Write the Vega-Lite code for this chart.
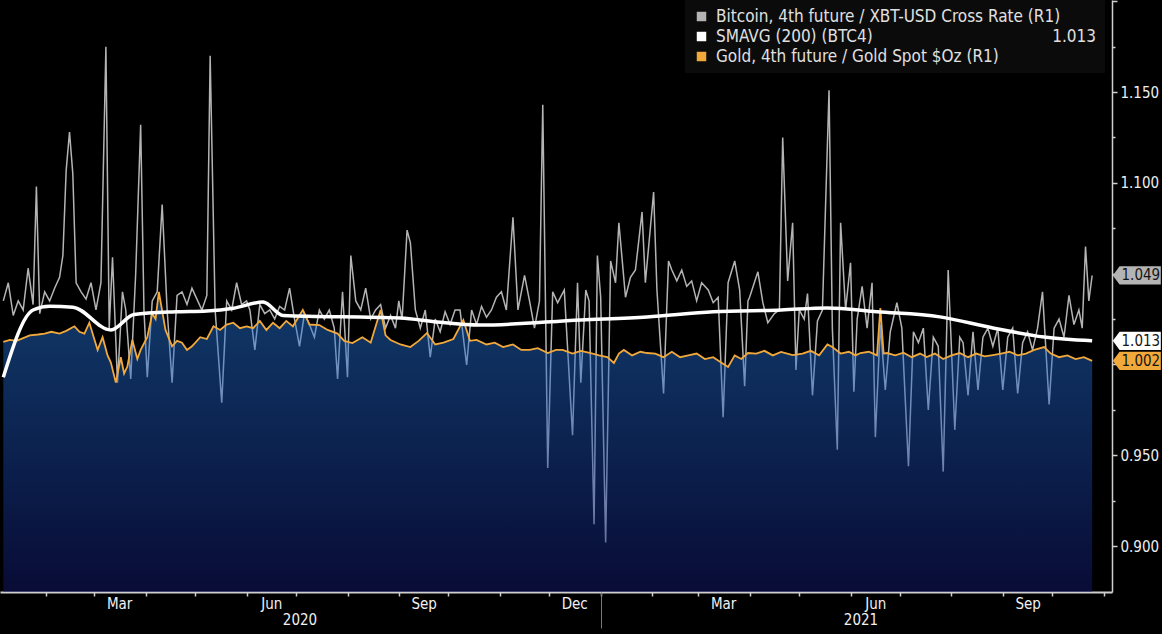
{
  "$schema": "https://vega.github.io/schema/vega-lite/v6.json",
  "width": 1112,
  "height": 592,
  "autosize": {"type": "none"},
  "padding": {"left": 0, "top": 0, "right": 50, "bottom": 42},
  "background": "#000000",
  "datasets": {
    "btc": [
      {"d": "2020-01-06", "v": 1.035}, {"d": "2020-01-09", "v": 1.045}, {"d": "2020-01-12", "v": 1.027}, {"d": "2020-01-15", "v": 1.035},
      {"d": "2020-01-18", "v": 1.030}, {"d": "2020-01-21", "v": 1.053}, {"d": "2020-01-24", "v": 1.033}, {"d": "2020-01-26", "v": 1.098},
      {"d": "2020-01-28", "v": 1.028}, {"d": "2020-01-31", "v": 1.040},
      {"d": "2020-02-03", "v": 1.035}, {"d": "2020-02-06", "v": 1.042}, {"d": "2020-02-09", "v": 1.048}, {"d": "2020-02-11", "v": 1.060},
      {"d": "2020-02-13", "v": 1.107}, {"d": "2020-02-15", "v": 1.128}, {"d": "2020-02-17", "v": 1.105}, {"d": "2020-02-19", "v": 1.045},
      {"d": "2020-02-22", "v": 1.040}, {"d": "2020-02-25", "v": 1.036}, {"d": "2020-02-28", "v": 1.045},
      {"d": "2020-03-02", "v": 1.030}, {"d": "2020-03-05", "v": 1.045}, {"d": "2020-03-08", "v": 1.175}, {"d": "2020-03-10", "v": 1.020},
      {"d": "2020-03-12", "v": 1.059}, {"d": "2020-03-15", "v": 0.990}, {"d": "2020-03-18", "v": 1.040}, {"d": "2020-03-20", "v": 1.030},
      {"d": "2020-03-23", "v": 0.992}, {"d": "2020-03-26", "v": 1.050}, {"d": "2020-03-29", "v": 1.132}, {"d": "2020-03-31", "v": 1.030},
      {"d": "2020-04-02", "v": 0.993}, {"d": "2020-04-05", "v": 1.035}, {"d": "2020-04-08", "v": 1.040}, {"d": "2020-04-11", "v": 1.088},
      {"d": "2020-04-14", "v": 1.030}, {"d": "2020-04-17", "v": 0.990}, {"d": "2020-04-20", "v": 1.038}, {"d": "2020-04-23", "v": 1.040},
      {"d": "2020-04-26", "v": 1.033}, {"d": "2020-04-29", "v": 1.042},
      {"d": "2020-05-02", "v": 1.036}, {"d": "2020-05-05", "v": 1.030}, {"d": "2020-05-08", "v": 1.038}, {"d": "2020-05-10", "v": 1.170},
      {"d": "2020-05-13", "v": 1.030}, {"d": "2020-05-17", "v": 0.979}, {"d": "2020-05-20", "v": 1.035}, {"d": "2020-05-23", "v": 1.030},
      {"d": "2020-05-26", "v": 1.045}, {"d": "2020-05-29", "v": 1.033},
      {"d": "2020-06-01", "v": 1.035}, {"d": "2020-06-03", "v": 1.030}, {"d": "2020-06-06", "v": 1.008}, {"d": "2020-06-09", "v": 1.033},
      {"d": "2020-06-12", "v": 1.028}, {"d": "2020-06-15", "v": 1.030}, {"d": "2020-06-18", "v": 1.025}, {"d": "2020-06-21", "v": 1.032},
      {"d": "2020-06-24", "v": 1.030}, {"d": "2020-06-27", "v": 1.042}, {"d": "2020-06-30", "v": 1.025},
      {"d": "2020-07-03", "v": 1.010}, {"d": "2020-07-06", "v": 1.028}, {"d": "2020-07-09", "v": 1.022}, {"d": "2020-07-12", "v": 1.015},
      {"d": "2020-07-15", "v": 1.030}, {"d": "2020-07-18", "v": 1.025}, {"d": "2020-07-21", "v": 1.030}, {"d": "2020-07-24", "v": 1.020},
      {"d": "2020-07-26", "v": 0.992}, {"d": "2020-07-29", "v": 1.040},
      {"d": "2020-08-01", "v": 0.993}, {"d": "2020-08-03", "v": 1.060}, {"d": "2020-08-06", "v": 1.035}, {"d": "2020-08-09", "v": 1.030},
      {"d": "2020-08-12", "v": 1.042}, {"d": "2020-08-15", "v": 1.025}, {"d": "2020-08-18", "v": 1.030}, {"d": "2020-08-21", "v": 1.033},
      {"d": "2020-08-24", "v": 1.020}, {"d": "2020-08-27", "v": 1.027}, {"d": "2020-08-30", "v": 1.020},
      {"d": "2020-09-01", "v": 1.035}, {"d": "2020-09-03", "v": 1.025}, {"d": "2020-09-06", "v": 1.074}, {"d": "2020-09-08", "v": 1.067},
      {"d": "2020-09-11", "v": 1.030}, {"d": "2020-09-14", "v": 1.020}, {"d": "2020-09-17", "v": 1.030}, {"d": "2020-09-20", "v": 1.004},
      {"d": "2020-09-23", "v": 1.025}, {"d": "2020-09-26", "v": 1.018}, {"d": "2020-09-29", "v": 1.029},
      {"d": "2020-10-02", "v": 1.022}, {"d": "2020-10-05", "v": 1.030}, {"d": "2020-10-08", "v": 1.030}, {"d": "2020-10-12", "v": 0.9997},
      {"d": "2020-10-15", "v": 1.030}, {"d": "2020-10-18", "v": 1.022}, {"d": "2020-10-21", "v": 1.032}, {"d": "2020-10-24", "v": 1.026},
      {"d": "2020-10-27", "v": 1.030}, {"d": "2020-10-30", "v": 1.037},
      {"d": "2020-11-02", "v": 1.040}, {"d": "2020-11-05", "v": 1.030}, {"d": "2020-11-09", "v": 1.081}, {"d": "2020-11-12", "v": 1.030},
      {"d": "2020-11-16", "v": 1.049}, {"d": "2020-11-19", "v": 1.035}, {"d": "2020-11-22", "v": 1.020}, {"d": "2020-11-25", "v": 1.035},
      {"d": "2020-11-27", "v": 1.143}, {"d": "2020-11-30", "v": 0.943},
      {"d": "2020-12-03", "v": 1.040}, {"d": "2020-12-06", "v": 1.034}, {"d": "2020-12-10", "v": 1.041}, {"d": "2020-12-15", "v": 0.961},
      {"d": "2020-12-18", "v": 1.045}, {"d": "2020-12-20", "v": 0.990}, {"d": "2020-12-23", "v": 1.041}, {"d": "2020-12-25", "v": 1.035},
      {"d": "2020-12-28", "v": 0.912}, {"d": "2020-12-30", "v": 1.060},
      {"d": "2021-01-01", "v": 1.037}, {"d": "2021-01-04", "v": 0.902}, {"d": "2021-01-07", "v": 1.057}, {"d": "2021-01-10", "v": 1.045},
      {"d": "2021-01-12", "v": 1.078}, {"d": "2021-01-16", "v": 1.037}, {"d": "2021-01-19", "v": 1.048}, {"d": "2021-01-22", "v": 1.052},
      {"d": "2021-01-26", "v": 1.084}, {"d": "2021-01-28", "v": 1.045},
      {"d": "2021-02-02", "v": 1.095}, {"d": "2021-02-04", "v": 1.041}, {"d": "2021-02-08", "v": 0.984}, {"d": "2021-02-11", "v": 1.057},
      {"d": "2021-02-13", "v": 1.052}, {"d": "2021-02-16", "v": 1.046}, {"d": "2021-02-19", "v": 1.052}, {"d": "2021-02-22", "v": 1.043},
      {"d": "2021-02-25", "v": 1.046}, {"d": "2021-02-28", "v": 1.035},
      {"d": "2021-03-03", "v": 1.045}, {"d": "2021-03-07", "v": 1.041}, {"d": "2021-03-10", "v": 1.034}, {"d": "2021-03-13", "v": 1.037},
      {"d": "2021-03-16", "v": 0.971}, {"d": "2021-03-19", "v": 1.045}, {"d": "2021-03-23", "v": 1.057}, {"d": "2021-03-26", "v": 1.041},
      {"d": "2021-03-29", "v": 0.988}, {"d": "2021-03-31", "v": 1.035},
      {"d": "2021-04-01", "v": 1.037}, {"d": "2021-04-06", "v": 1.051}, {"d": "2021-04-09", "v": 1.034}, {"d": "2021-04-12", "v": 1.023},
      {"d": "2021-04-16", "v": 1.028}, {"d": "2021-04-19", "v": 1.030}, {"d": "2021-04-21", "v": 1.125}, {"d": "2021-04-24", "v": 1.046},
      {"d": "2021-04-27", "v": 1.078}, {"d": "2021-04-29", "v": 0.997},
      {"d": "2021-05-01", "v": 1.030}, {"d": "2021-05-04", "v": 1.025}, {"d": "2021-05-06", "v": 1.039}, {"d": "2021-05-09", "v": 0.983},
      {"d": "2021-05-12", "v": 1.024}, {"d": "2021-05-15", "v": 1.030}, {"d": "2021-05-19", "v": 1.151}, {"d": "2021-05-21", "v": 1.020},
      {"d": "2021-05-24", "v": 0.953}, {"d": "2021-05-26", "v": 1.078}, {"d": "2021-05-29", "v": 1.030},
      {"d": "2021-06-01", "v": 1.056}, {"d": "2021-06-03", "v": 0.985}, {"d": "2021-06-05", "v": 1.025}, {"d": "2021-06-08", "v": 1.043},
      {"d": "2021-06-11", "v": 1.020}, {"d": "2021-06-14", "v": 1.045}, {"d": "2021-06-16", "v": 0.960}, {"d": "2021-06-19", "v": 1.022},
      {"d": "2021-06-22", "v": 0.986}, {"d": "2021-06-25", "v": 1.018}, {"d": "2021-06-29", "v": 1.034},
      {"d": "2021-07-02", "v": 1.020}, {"d": "2021-07-06", "v": 0.944}, {"d": "2021-07-09", "v": 1.018}, {"d": "2021-07-12", "v": 1.012},
      {"d": "2021-07-15", "v": 1.020}, {"d": "2021-07-18", "v": 0.975}, {"d": "2021-07-21", "v": 1.015}, {"d": "2021-07-24", "v": 1.010},
      {"d": "2021-07-27", "v": 0.941}, {"d": "2021-07-30", "v": 1.052},
      {"d": "2021-08-03", "v": 0.964}, {"d": "2021-08-06", "v": 1.015}, {"d": "2021-08-08", "v": 1.012}, {"d": "2021-08-11", "v": 0.983},
      {"d": "2021-08-14", "v": 1.018}, {"d": "2021-08-17", "v": 0.986}, {"d": "2021-08-20", "v": 1.015}, {"d": "2021-08-23", "v": 1.020},
      {"d": "2021-08-26", "v": 1.010}, {"d": "2021-08-29", "v": 1.020},
      {"d": "2021-09-01", "v": 0.986}, {"d": "2021-09-04", "v": 1.015}, {"d": "2021-09-07", "v": 1.020}, {"d": "2021-09-10", "v": 0.984},
      {"d": "2021-09-13", "v": 1.012}, {"d": "2021-09-16", "v": 1.018}, {"d": "2021-09-19", "v": 1.008}, {"d": "2021-09-22", "v": 1.020},
      {"d": "2021-09-25", "v": 1.040}, {"d": "2021-09-29", "v": 0.978},
      {"d": "2021-10-02", "v": 1.020}, {"d": "2021-10-05", "v": 1.025}, {"d": "2021-10-08", "v": 1.015}, {"d": "2021-10-11", "v": 1.038},
      {"d": "2021-10-14", "v": 1.022}, {"d": "2021-10-17", "v": 1.030}, {"d": "2021-10-19", "v": 1.020}, {"d": "2021-10-21", "v": 1.065},
      {"d": "2021-10-23", "v": 1.035}, {"d": "2021-10-25", "v": 1.049}
    ],
    "gold": [
      {"d": "2020-01-06", "v": 1.0125}, {"d": "2020-01-10", "v": 1.0135}, {"d": "2020-01-14", "v": 1.013}, {"d": "2020-01-18", "v": 1.0145},
      {"d": "2020-01-22", "v": 1.016}, {"d": "2020-01-27", "v": 1.0165}, {"d": "2020-01-31", "v": 1.017}, {"d": "2020-02-04", "v": 1.018},
      {"d": "2020-02-09", "v": 1.017}, {"d": "2020-02-13", "v": 1.0185}, {"d": "2020-02-18", "v": 1.021}, {"d": "2020-02-21", "v": 1.018},
      {"d": "2020-02-24", "v": 1.017}, {"d": "2020-02-27", "v": 1.023}, {"d": "2020-03-03", "v": 1.008}, {"d": "2020-03-06", "v": 1.015},
      {"d": "2020-03-09", "v": 1.005}, {"d": "2020-03-11", "v": 1.001}, {"d": "2020-03-14", "v": 0.990}, {"d": "2020-03-17", "v": 1.004},
      {"d": "2020-03-19", "v": 0.995}, {"d": "2020-03-21", "v": 0.999}, {"d": "2020-03-24", "v": 1.0135}, {"d": "2020-03-27", "v": 1.003},
      {"d": "2020-03-29", "v": 1.008}, {"d": "2020-04-02", "v": 1.015}, {"d": "2020-04-05", "v": 1.028}, {"d": "2020-04-07", "v": 1.025},
      {"d": "2020-04-09", "v": 1.040}, {"d": "2020-04-13", "v": 1.019}, {"d": "2020-04-17", "v": 1.010}, {"d": "2020-04-20", "v": 1.013},
      {"d": "2020-04-23", "v": 1.012}, {"d": "2020-04-26", "v": 1.008}, {"d": "2020-04-29", "v": 1.010}, {"d": "2020-05-04", "v": 1.015},
      {"d": "2020-05-08", "v": 1.014}, {"d": "2020-05-12", "v": 1.021}, {"d": "2020-05-16", "v": 1.019}, {"d": "2020-05-20", "v": 1.022},
      {"d": "2020-05-24", "v": 1.023}, {"d": "2020-05-28", "v": 1.020}, {"d": "2020-06-01", "v": 1.021}, {"d": "2020-06-05", "v": 1.020},
      {"d": "2020-06-09", "v": 1.024}, {"d": "2020-06-13", "v": 1.019}, {"d": "2020-06-17", "v": 1.023}, {"d": "2020-06-21", "v": 1.020},
      {"d": "2020-06-25", "v": 1.024}, {"d": "2020-06-29", "v": 1.021}, {"d": "2020-07-05", "v": 1.030}, {"d": "2020-07-09", "v": 1.022},
      {"d": "2020-07-15", "v": 1.0217}, {"d": "2020-07-20", "v": 1.019}, {"d": "2020-07-26", "v": 1.017}, {"d": "2020-07-30", "v": 1.013},
      {"d": "2020-08-04", "v": 1.0118}, {"d": "2020-08-10", "v": 1.015}, {"d": "2020-08-15", "v": 1.012}, {"d": "2020-08-21", "v": 1.030},
      {"d": "2020-08-24", "v": 1.016}, {"d": "2020-08-27", "v": 1.0135}, {"d": "2020-09-02", "v": 1.011}, {"d": "2020-09-08", "v": 1.0096},
      {"d": "2020-09-13", "v": 1.013}, {"d": "2020-09-18", "v": 1.0173}, {"d": "2020-09-23", "v": 1.011}, {"d": "2020-09-28", "v": 1.012},
      {"d": "2020-10-04", "v": 1.014}, {"d": "2020-10-10", "v": 1.0245}, {"d": "2020-10-14", "v": 1.013}, {"d": "2020-10-18", "v": 1.0135},
      {"d": "2020-10-24", "v": 1.011}, {"d": "2020-10-29", "v": 1.012}, {"d": "2020-11-03", "v": 1.0096}, {"d": "2020-11-09", "v": 1.011},
      {"d": "2020-11-14", "v": 1.008}, {"d": "2020-11-19", "v": 1.008}, {"d": "2020-11-24", "v": 1.009}, {"d": "2020-11-30", "v": 1.0063},
      {"d": "2020-12-05", "v": 1.008}, {"d": "2020-12-09", "v": 1.008}, {"d": "2020-12-15", "v": 1.006}, {"d": "2020-12-20", "v": 1.0075},
      {"d": "2020-12-26", "v": 1.0063}, {"d": "2020-12-31", "v": 1.005}, {"d": "2021-01-05", "v": 1.004}, {"d": "2021-01-09", "v": 1.0008},
      {"d": "2021-01-12", "v": 1.006}, {"d": "2021-01-15", "v": 1.008}, {"d": "2021-01-20", "v": 1.005}, {"d": "2021-01-25", "v": 1.007},
      {"d": "2021-01-29", "v": 1.0063}, {"d": "2021-02-03", "v": 1.006}, {"d": "2021-02-08", "v": 1.004}, {"d": "2021-02-13", "v": 1.007},
      {"d": "2021-02-18", "v": 1.004}, {"d": "2021-02-23", "v": 1.005}, {"d": "2021-02-28", "v": 1.006}, {"d": "2021-03-05", "v": 1.003},
      {"d": "2021-03-10", "v": 1.004}, {"d": "2021-03-15", "v": 1.001}, {"d": "2021-03-19", "v": 0.9986}, {"d": "2021-03-23", "v": 1.005},
      {"d": "2021-03-27", "v": 1.003}, {"d": "2021-03-31", "v": 1.0063}, {"d": "2021-04-05", "v": 1.006}, {"d": "2021-04-10", "v": 1.0075},
      {"d": "2021-04-15", "v": 1.005}, {"d": "2021-04-20", "v": 1.0069}, {"d": "2021-04-27", "v": 1.0052}, {"d": "2021-05-03", "v": 1.006},
      {"d": "2021-05-08", "v": 1.0075}, {"d": "2021-05-13", "v": 1.005}, {"d": "2021-05-18", "v": 1.011}, {"d": "2021-05-21", "v": 1.0096},
      {"d": "2021-05-26", "v": 1.006}, {"d": "2021-05-31", "v": 1.007}, {"d": "2021-06-04", "v": 1.005}, {"d": "2021-06-07", "v": 1.0063},
      {"d": "2021-06-12", "v": 1.007}, {"d": "2021-06-17", "v": 1.005}, {"d": "2021-06-19", "v": 1.031}, {"d": "2021-06-21", "v": 1.006},
      {"d": "2021-06-23", "v": 1.0063}, {"d": "2021-06-28", "v": 1.005}, {"d": "2021-07-03", "v": 1.0065}, {"d": "2021-07-08", "v": 1.004},
      {"d": "2021-07-13", "v": 1.006}, {"d": "2021-07-17", "v": 1.0041}, {"d": "2021-07-22", "v": 1.006}, {"d": "2021-07-27", "v": 1.003},
      {"d": "2021-08-01", "v": 1.005}, {"d": "2021-08-06", "v": 1.0063}, {"d": "2021-08-11", "v": 1.004}, {"d": "2021-08-16", "v": 1.006},
      {"d": "2021-08-21", "v": 1.0045}, {"d": "2021-08-26", "v": 1.0052}, {"d": "2021-08-31", "v": 1.006}, {"d": "2021-09-05", "v": 1.007},
      {"d": "2021-09-10", "v": 1.005}, {"d": "2021-09-15", "v": 1.006}, {"d": "2021-09-20", "v": 1.008}, {"d": "2021-09-26", "v": 1.0096},
      {"d": "2021-09-30", "v": 1.006}, {"d": "2021-10-05", "v": 1.004}, {"d": "2021-10-10", "v": 1.005}, {"d": "2021-10-15", "v": 1.003},
      {"d": "2021-10-20", "v": 1.004}, {"d": "2021-10-25", "v": 1.002}
    ],
    "sma": [
      {"d": "2020-01-06", "v": 0.993}, {"d": "2020-01-24", "v": 1.030}, {"d": "2020-02-03", "v": 1.032}, {"d": "2020-02-17", "v": 1.0315},
      {"d": "2020-03-11", "v": 1.019}, {"d": "2020-03-25", "v": 1.0275}, {"d": "2020-04-19", "v": 1.029}, {"d": "2020-05-08", "v": 1.0295},
      {"d": "2020-05-24", "v": 1.031}, {"d": "2020-06-11", "v": 1.0344}, {"d": "2020-06-23", "v": 1.027}, {"d": "2020-09-02", "v": 1.0256},
      {"d": "2020-09-24", "v": 1.0234}, {"d": "2020-10-20", "v": 1.0217}, {"d": "2020-12-20", "v": 1.0245}, {"d": "2021-01-29", "v": 1.0262},
      {"d": "2021-03-10", "v": 1.029}, {"d": "2021-04-20", "v": 1.030}, {"d": "2021-05-18", "v": 1.0311}, {"d": "2021-06-17", "v": 1.029},
      {"d": "2021-07-25", "v": 1.0262}, {"d": "2021-08-26", "v": 1.0201}, {"d": "2021-09-26", "v": 1.0151}, {"d": "2021-10-25", "v": 1.013}
    ],
    "last": [
      {"s": "Bitcoin, 4th future / XBT-USD Cross Rate (R1)", "v": 1.049},
      {"s": "SMAVG (200) (BTC4)", "v": 1.013},
      {"s": "Gold, 4th future / Gold Spot $Oz (R1)", "v": 1.002}
    ]
  },
  "layer": [
    {
      "data": {"name": "btc"},
      "mark": {"type": "line", "strokeWidth": 1.5, "clip": true},
      "encoding": {
        "x": {
          "field": "d", "type": "temporal", "title": null,
          "scale": {"domain": [{"year": 2020, "month": 1, "date": 4}, {"year": 2021, "month": 11, "date": 6}]},
          "axis": {
            "orient": "bottom",
            "values": [
              {"year": 2020, "month": 2, "date": 1}, {"year": 2020, "month": 3, "date": 1}, {"year": 2020, "month": 4, "date": 1},
              {"year": 2020, "month": 5, "date": 1}, {"year": 2020, "month": 6, "date": 1}, {"year": 2020, "month": 7, "date": 1},
              {"year": 2020, "month": 8, "date": 1}, {"year": 2020, "month": 9, "date": 1}, {"year": 2020, "month": 10, "date": 1},
              {"year": 2020, "month": 11, "date": 1}, {"year": 2020, "month": 12, "date": 1}, {"year": 2021, "month": 1, "date": 1},
              {"year": 2021, "month": 2, "date": 1}, {"year": 2021, "month": 3, "date": 1}, {"year": 2021, "month": 4, "date": 1},
              {"year": 2021, "month": 5, "date": 1}, {"year": 2021, "month": 6, "date": 1}, {"year": 2021, "month": 7, "date": 1},
              {"year": 2021, "month": 8, "date": 1}, {"year": 2021, "month": 9, "date": 1}, {"year": 2021, "month": 10, "date": 1},
              {"year": 2021, "month": 11, "date": 1}
            ],
            "labels": false, "ticks": true, "tickSize": 4, "tickWidth": 1.5, "tickColor": "#cfcfcf",
            "domain": true, "domainColor": "#cfcfcf", "domainWidth": 2, "grid": false, "title": null
          }
        },
        "y": {
          "field": "v", "type": "quantitative", "title": null,
          "scale": {"domain": [0.8747, 1.2007], "nice": false, "zero": false},
          "axis": {
            "orient": "right",
            "values": [0.9, 0.925, 0.95, 0.975, 1.0, 1.025, 1.05, 1.075, 1.1, 1.125, 1.15, 1.175, 1.2],
            "labelExpr": "indexof(['0.900', '0.950', '1.100', '1.150'], format(datum.value, '.3f')) >= 0 ? format(datum.value, '.3f') : ''",
            "tickSize": {"condition": {"test": "round(datum.value * 1000) % 50 == 0", "value": 5}, "value": 3},
            "tickColor": "#cfcfcf", "tickWidth": 1.5,
            "domainColor": "#cfcfcf", "domainWidth": 1.5,
            "labelColor": "#eeeeee", "labelFontSize": 15, "labelPadding": 3,
            "grid": false, "title": null
          }
        },
        "color": {
          "datum": "Bitcoin, 4th future / XBT-USD Cross Rate (R1)", "type": "nominal", "title": null,
          "scale": {
            "domain": ["Bitcoin, 4th future / XBT-USD Cross Rate (R1)", "SMAVG (200) (BTC4)", "Gold, 4th future / Gold Spot $Oz (R1)"],
            "range": ["#b4b4b4", "#ffffff", "#f2a93b"]
          },
          "legend": {
            "title": null,
            "orient": "none", "legendX": 685, "legendY": 0,
            "labelExpr": "datum.label == 'SMAVG (200) (BTC4)' ? datum.label + '\u00a0\u00a0\u00a0\u00a0\u00a0\u00a0\u00a0\u00a0\u00a0\u00a0\u00a0\u00a0\u00a0\u00a0\u00a0\u00a0\u00a0\u00a0\u00a0\u00a0\u00a0\u00a0\u00a0\u00a0\u00a0\u00a0\u00a0\u00a0\u00a0\u00a0\u00a0\u00a0\u00a0\u00a0\u00a0\u00a0\u00a01.013' : datum.label",
            "encode": {
              "symbols": {"update": {"fill": {"scale": "color", "field": "value"}, "stroke": {"value": "transparent"}, "shape": {"value": "square"}}}
            }
          }
        }
      }
    },
    {
      "data": {"name": "gold"},
      "mark": {
        "type": "area", "fillOpacity": 0.45, "clip": true,
        "color": {
          "gradient": "linear", "x1": 0, "y1": 0, "x2": 0, "y2": 1,
          "stops": [{"offset": 0, "color": "#2480ea"}, {"offset": 1, "color": "#121a78"}]
        }
      },
      "encoding": {
        "x": {
          "field": "d", "type": "temporal", "title": null,
          "scale": {"domain": [{"year": 2020, "month": 1, "date": 4}, {"year": 2021, "month": 11, "date": 6}]},
          "axis": {
            "orient": "bottom",
            "values": [
              {"year": 2020, "month": 3, "date": 16}, {"year": 2020, "month": 6, "date": 16}, {"year": 2020, "month": 9, "date": 16},
              {"year": 2020, "month": 12, "date": 16}, {"year": 2021, "month": 3, "date": 16}, {"year": 2021, "month": 6, "date": 16},
              {"year": 2021, "month": 9, "date": 16}
            ],
            "labelExpr": "timeFormat(datum.value, '%b')",
            "ticks": false, "domain": false, "grid": false, "labelPadding": 4,
            "labelFontSize": 15, "labelColor": "#f0f0f0", "labelFlush": false, "labelOverlap": false, "title": null
          }
        },
        "y": {"field": "v", "type": "quantitative", "title": null, "scale": {"domain": [0.8747, 1.2007], "nice": false, "zero": false}},
        "y2": {"datum": 0.8747}
      }
    },
    {
      "data": {"name": "gold"},
      "mark": {"type": "line", "strokeWidth": 1.8, "clip": true},
      "encoding": {
        "x": {
          "field": "d", "type": "temporal", "title": null,
          "scale": {"domain": [{"year": 2020, "month": 1, "date": 4}, {"year": 2021, "month": 11, "date": 6}]},
          "axis": {
            "orient": "bottom",
            "values": [{"year": 2020, "month": 7, "date": 3}, {"year": 2021, "month": 6, "date": 7}],
            "format": "%Y", "ticks": false, "domain": false, "grid": false, "labelPadding": 20,
            "labelFontSize": 15, "labelColor": "#f0f0f0", "labelFlush": false, "labelOverlap": false, "title": null
          }
        },
        "y": {"field": "v", "type": "quantitative", "title": null, "scale": {"domain": [0.8747, 1.2007], "nice": false, "zero": false}},
        "color": {"datum": "Gold, 4th future / Gold Spot $Oz (R1)", "type": "nominal", "title": null}
      }
    },
    {
      "data": {"name": "sma"},
      "mark": {"type": "line", "strokeWidth": 3.5, "interpolate": "monotone", "clip": true},
      "encoding": {
        "x": {
          "field": "d", "type": "temporal", "title": null,
          "scale": {"domain": [{"year": 2020, "month": 1, "date": 4}, {"year": 2021, "month": 11, "date": 6}]},
          "axis": {
            "orient": "bottom",
            "values": [{"year": 2021, "month": 1, "date": 1}],
            "labels": false, "ticks": true, "tickSize": 36, "tickWidth": 1, "tickColor": "#777777",
            "domain": false, "grid": false, "title": null
          }
        },
        "y": {"field": "v", "type": "quantitative", "title": null, "scale": {"domain": [0.8747, 1.2007], "nice": false, "zero": false}},
        "color": {"datum": "SMAVG (200) (BTC4)", "type": "nominal", "title": null}
      }
    },
    {
      "data": {"name": "last"},
      "mark": {"type": "point", "shape": "M-1,0L-0.72,-0.38L1,-0.38L1,0.38L-0.72,0.38Z", "filled": true, "size": 2304, "opacity": 1},
      "encoding": {
        "x": {"datum": {"year": 2021, "month": 11, "date": 21}, "type": "temporal", "axis": null},
        "y": {"field": "v", "type": "quantitative", "title": null, "scale": {"domain": [0.8747, 1.2007], "nice": false, "zero": false}},
        "color": {"field": "s", "type": "nominal", "title": null}
      }
    },
    {
      "data": {"name": "last"},
      "mark": {"type": "text", "fontSize": 15, "color": "#151515", "dx": 4, "align": "center", "baseline": "middle"},
      "encoding": {
        "x": {"datum": {"year": 2021, "month": 11, "date": 21}, "type": "temporal", "axis": null},
        "y": {"field": "v", "type": "quantitative", "title": null, "scale": {"domain": [0.8747, 1.2007], "nice": false, "zero": false}},
        "text": {"field": "v", "type": "quantitative", "format": ".3f"}
      }
    }
  ],
  "resolve": {"axis": {"x": "independent"}},
  "config": {
    "font": "DejaVu Sans Condensed, DejaVu Sans, sans-serif",
    "view": {"stroke": null},
    "legend": {
      "padding": 8, "fillColor": "#0b0b0b",
      "symbolType": "square", "symbolSize": 90, "symbolStrokeWidth": 0,
      "labelFontSize": 17, "labelColor": "#e0e0e0", "labelLimit": 800, "labelOffset": 6, "rowPadding": 2
    }
  }
}
